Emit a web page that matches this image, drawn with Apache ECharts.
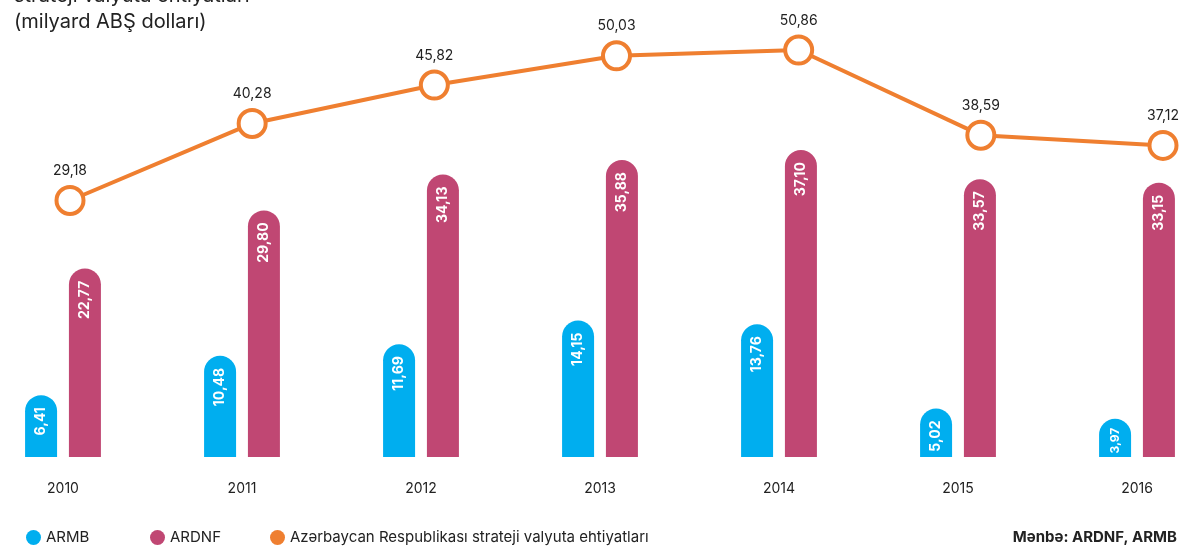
<!DOCTYPE html>
<html>
<head>
<meta charset="utf-8">
<title>Strateji valyuta ehtiyatları</title>
<script src="https://cdn.jsdelivr.net/npm/echarts@6/dist/echarts.min.js"></script>
<style>
  html, body { margin: 0; padding: 0; background: #fff; }
  #chart { width: 1189px; height: 552px; }
</style>
</head>
<body>
<div id="chart"></div>
<script>
// values
const years = ['2010', '2011', '2012', '2013', '2014', '2015', '2016'];
const armb = [6.41, 10.48, 11.69, 14.15, 13.76, 5.02, 3.97];
const ardnf = [22.77, 29.80, 34.13, 35.88, 37.10, 33.57, 33.15];
const reserves = [29.18, 40.28, 45.82, 50.03, 50.86, 38.59, 37.12];

const FONT = 'Inter';
const fmt = p => p.value.toFixed(2).replace('.', ',');

const chart = echarts.init(document.getElementById('chart'));

const barLabel = {
    show: true,
    position: 'insideTop',
    distance: 12,
    rotate: 90,
    align: 'right',
    verticalAlign: 'middle',
    color: '#fff',
    fontFamily: FONT,
    fontWeight: 'bold',
    fontSize: 14,
    formatter: fmt
};

// short bars get a smaller label so it stays inside the bar
const barData = arr => arr.map(v => v < 4.5 ? { value: v, label: { fontSize: 12, distance: 9 } } : v);

const option = {
    animation: false,
    textStyle: { fontFamily: FONT },
    title: {
        text: 'strateji valyuta ehtiyatları\n(milyard ABŞ dolları)',
        left: 14,
        top: -17,
        padding: 0,
        textStyle: { fontFamily: FONT, fontSize: 20, fontWeight: 'normal', color: '#222', lineHeight: 26 }
    },
    legend: [
        { data: ['ARMB'], left: 26, top: 530 },
        { data: ['ARDNF'], left: 150, top: 530 },
        {
            data: [{ name: 'Azərbaycan Respublikası strateji valyuta ehtiyatları', itemStyle: { color: '#ef7f30', borderWidth: 0 } }],
            left: 270, top: 530
        }
    ].map(l => Object.assign({
        icon: 'circle', itemWidth: 15, itemHeight: 15, itemGap: 5, padding: 0,
        textStyle: { fontFamily: FONT, fontSize: 15, color: '#222' }
    }, l)),
    graphic: [{
        type: 'text',
        right: 12,
        top: 530,
        style: { text: 'Mənbə: ARDNF, ARMB', font: 'bold 15px ' + FONT, fill: '#222' }
    }],
    grid: [
        { left: 63, right: 52, top: 126, bottom: 95 },
        { left: 70, right: 26, top: 56, bottom: 149 }
    ],
    xAxis: [
        {
            type: 'category', gridIndex: 0, data: years, boundaryGap: false,
            axisLine: { show: false }, axisTick: { show: false }, splitLine: { show: false },
            axisLabel: { margin: 25, fontSize: 14, color: '#222', fontFamily: FONT }
        },
        { type: 'category', gridIndex: 1, data: years, boundaryGap: false, show: false }
    ],
    yAxis: [
        { type: 'value', gridIndex: 0, min: 0, max: 34.3, show: false },
        { type: 'value', gridIndex: 0, min: 0, max: 40, show: false },
        { type: 'value', gridIndex: 1, min: 0, max: 50, show: false }
    ],
    series: [
        {
            name: 'ARMB', type: 'bar', xAxisIndex: 0, yAxisIndex: 0,
            data: barData(armb), barWidth: 32, barGap: '37%', clip: false,
            itemStyle: { color: '#00aeef', borderRadius: [16, 16, 0, 0] },
            label: barLabel
        },
        {
            name: 'ARDNF', type: 'bar', xAxisIndex: 0, yAxisIndex: 1,
            data: barData(ardnf), barWidth: 32, barGap: '37%', clip: false,
            itemStyle: { color: '#c04773', borderRadius: [16, 16, 0, 0] },
            label: barLabel
        },
        {
            name: 'Azərbaycan Respublikası strateji valyuta ehtiyatları', type: 'line',
            xAxisIndex: 1, yAxisIndex: 2, data: reserves, clip: false,
            symbol: 'circle', symbolSize: 27, showAllSymbol: true,
            lineStyle: { color: '#ef7f30', width: 4 },
            itemStyle: { color: '#fff', borderColor: '#ef7f30', borderWidth: 4 },
            label: {
                show: true, position: 'top', distance: 7,
                fontSize: 14, color: '#222', fontFamily: FONT, formatter: fmt
            },
            z: 5
        }
    ]
};

chart.setOption(option);
</script>
</body>
</html>
